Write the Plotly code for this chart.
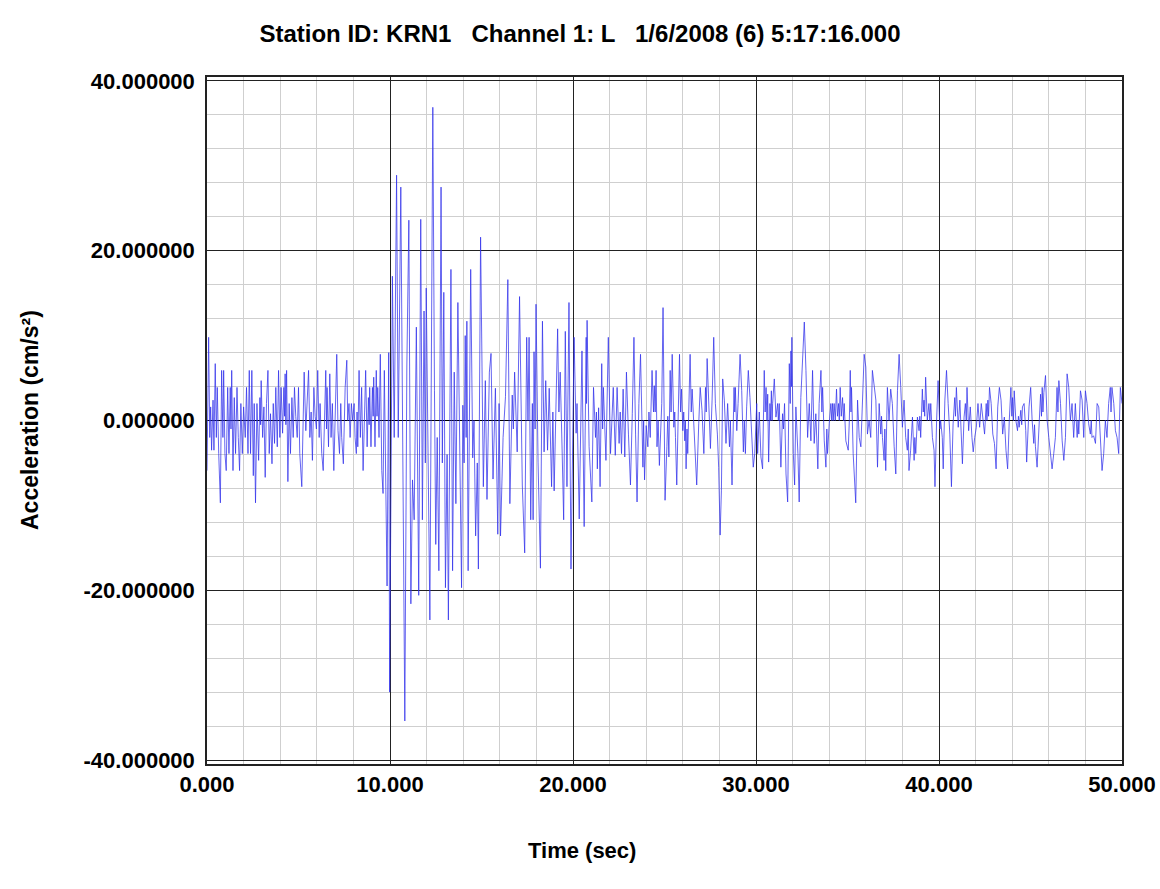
import plotly.graph_objects as go

# ---- data (time in s, acceleration in cm/s^2) ----
t_00_05 = [0.00, 0.09, 0.15, 0.20, 0.25, 0.33, 0.38, 0.45, 0.51, 0.56, 0.64, 0.73, 0.80, 0.87, 0.91, 0.98,
           1.05, 1.13, 1.20, 1.27, 1.31, 1.35, 1.42, 1.49, 1.56, 1.64, 1.71, 1.78, 1.85, 1.93,
           2.00, 2.09, 2.16, 2.24, 2.31, 2.38, 2.45, 2.53, 2.58, 2.65, 2.73, 2.82, 2.89, 2.93, 2.96,
           3.04, 3.11, 3.18, 3.25, 3.33, 3.40, 3.47, 3.55, 3.62, 3.69, 3.76, 3.84, 3.91, 3.98,
           4.05, 4.13, 4.20, 4.24, 4.27, 4.31, 4.35, 4.42, 4.49, 4.56, 4.64, 4.71, 4.78, 4.85, 4.93]
a_00_05 = [-5.9, 9.8, -2.0, 1.6, -3.5, 2.4, -3.5, 6.7, -2.0, 3.9, -3.9, -9.7, 5.9, -2.0, 5.9, -3.9,
           -5.9, 3.9, -3.9, 3.9, -1.0, 5.9, -5.9, 2.7, -3.9, 3.9, -2.0, -5.9, 2.0, -3.9,
           1.6, -2.0, 3.9, -3.9, 5.9, -3.9, 5.9, -6.5, 2.0, -9.7, 2.0, -4.7, 2.7, -0.5, 4.7,
           -2.0, 1.6, -6.7, 2.0, 5.9, -3.9, 0.8, -5.1, 2.0, -2.7, 3.9, -3.1, 5.9, -2.0,
           3.9, -1.5, 3.9, 0.5, 5.5, -0.5, 5.9, -7.2, 2.0, -3.9, 2.7, -2.0, 3.9, 0.5, -2.0]

t_05_10 = [5.00, 5.07, 5.18, 5.25, 5.31, 5.40, 5.47, 5.55, 5.62, 5.69, 5.76, 5.84, 5.91, 5.98,
           6.05, 6.13, 6.18, 6.27, 6.35, 6.42, 6.49, 6.53, 6.56, 6.64, 6.71, 6.78, 6.85, 6.93,
           7.00, 7.09, 7.16, 7.24, 7.31, 7.36, 7.45, 7.55, 7.64, 7.69, 7.76, 7.82, 7.89, 7.96,
           8.04, 8.09, 8.16, 8.20, 8.24, 8.31, 8.38, 8.45, 8.53, 8.60, 8.67, 8.75, 8.82, 8.86, 8.89, 8.96,
           9.04, 9.08, 9.11, 9.18, 9.25, 9.29, 9.33, 9.40, 9.47, 9.55, 9.62, 9.69, 9.76, 9.84, 9.93, 9.98]
a_05_10 = [3.9, -3.9, -7.8, 2.0, 5.7, -1.2, 2.0, 5.9, -2.0, 1.0, -4.7, 3.9, 0.5, -1.0,
           5.9, -2.0, 2.0, -3.9, -5.9, 2.0, 5.9, -1.0, 3.9, -3.1, 5.5, -2.0, 2.0, -5.9,
           1.6, 7.8, -1.2, -3.9, 2.0, -2.0, -5.1, 3.9, 7.1, 0.0, 2.0, -2.0, 2.0, 0.0,
           2.0, -2.0, -3.9, 1.0, -3.1, 5.9, -2.0, 3.9, -5.9, 2.0, 5.9, -3.1, 2.7, -0.5, 3.9, -3.1,
           3.9, 0.5, 5.1, -3.1, 5.9, 0.5, 3.9, -2.0, 7.8, -5.9, -8.6, 5.9, -10.0, -19.5, 8.0, -32.0]

t_10_15 = [10.13, 10.23, 10.36, 10.45, 10.59, 10.81, 10.92, 11.03, 11.14, 11.23, 11.32, 11.44, 11.57,
           11.68, 11.77, 11.86, 11.93, 11.98, 12.18, 12.34, 12.43, 12.50, 12.58, 12.67, 12.79, 12.86,
           12.94, 13.03, 13.12, 13.19, 13.33, 13.42, 13.51, 13.60, 13.71, 13.91, 13.98, 14.05, 14.11,
           14.16, 14.20, 14.27, 14.41, 14.52, 14.59, 14.68, 14.77, 14.83, 14.95]
a_10_15 = [17.0, -2.0, 28.9, -2.0, 27.5, -35.4, 6.3, 23.6, -21.6, -7.0, -11.7, 11.0, -20.6,
           23.7, -11.7, 12.9, -5.0, 15.6, -23.5, 36.9, 3.5, -14.6, -2.0, -17.7, 27.5, -5.0,
           15.1, -19.7, -4.0, -23.5, 17.8, -17.7, 5.7, -9.8, 13.9, -19.7, 1.8, -5.0, 10.0,
           -2.0, 11.7, -17.7, 17.8, -4.4, 0.0, -13.6, -5.0, -17.5, 21.6]

t_15_20 = [15.10, 15.21, 15.30, 15.43, 15.52, 15.63, 15.76, 15.89, 15.96, 16.04, 16.18, 16.31, 16.44,
           16.55, 16.68, 16.74, 16.81, 16.95, 17.08, 17.23, 17.36, 17.47, 17.54, 17.60, 17.69, 17.78,
           17.82, 17.87, 17.93, 17.98, 18.09, 18.22, 18.33, 18.42, 18.51, 18.61, 18.70, 18.83, 18.90,
           18.97, 19.16, 19.23, 19.30, 19.40, 19.49, 19.58, 19.67, 19.78, 19.89]
a_15_20 = [-7.8, 4.7, -9.3, 5.7, 7.9, -6.9, 3.8, -13.4, 2.0, -13.6, -2.0, 2.8, 16.6,
           -9.8, 3.0, -1.0, 5.7, -3.7, 14.6, -7.6, -15.6, 9.8, 0.0, 9.8, -11.7, 2.0,
           -11.7, 8.1, -1.0, 13.7, -4.9, -17.4, 11.7, -3.7, 4.7, -3.5, 3.8, -7.8, 1.0,
           -8.3, 10.8, 1.0, 5.7, -3.0, -11.7, 10.5, -7.8, 13.9, -17.5]

t_20_25 = [20.06, 20.17, 20.22, 20.34, 20.49, 20.61, 20.72, 20.74, 20.77, 20.88, 21.03, 21.12, 21.23,
           21.28, 21.33, 21.40, 21.48, 21.57, 21.62, 21.66, 21.80, 21.93, 22.05, 22.20, 22.31, 22.41,
           22.52, 22.58, 22.65, 22.74, 22.83, 22.92, 23.03, 23.14, 23.24, 23.33, 23.42, 23.50, 23.60,
           23.69, 23.82, 23.86, 23.91, 24.00, 24.09, 24.15, 24.22, 24.32, 24.40, 24.44, 24.49, 24.54,
           24.59, 24.65, 24.72, 24.85, 24.92]
a_20_25 = [9.8, -1.5, 2.0, -11.6, 8.2, -12.5, 9.8, 2.0, 11.8, -3.1, -9.6, 3.9, -2.0,
           1.0, -5.7, 1.5, -7.8, 6.7, -1.0, 3.9, -4.7, 9.8, -3.9, 3.9, -4.1, 3.9,
           -2.7, 1.0, -3.9, 3.7, -4.3, 5.7, -1.6, -7.6, 0.8, 9.8, -1.6, -9.6, 2.0,
           7.8, -5.5, 0.0, -7.0, -0.6, -3.1, 1.0, -2.0, 5.9, 1.0, 4.1, 1.0, 5.9,
           -3.1, 0.0, -5.3, 2.0, 13.3]

t_25_30 = [25.03, 25.13, 25.18, 25.24, 25.31, 25.36, 25.42, 25.51, 25.56, 25.60, 25.67, 25.82, 25.88,
           25.93, 26.00, 26.05, 26.11, 26.14, 26.18, 26.23, 26.27, 26.40, 26.46, 26.51, 26.62, 26.76,
           26.87, 26.95, 27.05, 27.15, 27.24, 27.28, 27.33, 27.42, 27.51, 27.60, 27.69, 27.78, 27.89,
           27.96, 28.04, 28.11, 28.18, 28.27, 28.36, 28.45, 28.55, 28.60, 28.64, 28.69, 28.80, 28.84,
           28.87, 28.95, 29.02, 29.13, 29.22, 29.31, 29.36, 29.42, 29.49, 29.58, 29.67, 29.75, 29.85, 29.93]
a_25_30 = [-9.4, -3.1, 0.5, -4.3, 5.9, 1.0, 7.8, -0.8, 1.0, -2.0, -7.6, 7.8, 1.0,
           3.7, -1.2, 1.0, -2.4, 0.0, -5.7, -1.0, -3.9, 7.8, 1.0, 3.7, -1.2, -7.6,
           -0.4, 3.9, 1.2, -3.9, 3.9, 1.0, 7.3, 2.5, -3.3, 2.4, 9.8, 2.0, -1.6,
           -5.5, -13.5, -8.2, 4.9, 2.4, -2.7, 2.0, -3.1, 0.0, -3.5, -7.6, 3.9, 1.0,
           3.9, -1.2, 2.0, 7.8, 3.5, -3.7, 0.0, -3.9, 1.6, 5.9, 2.7, -0.8, -5.5, -3.9]

t_30_35 = [30.04, 30.09, 30.18, 30.27, 30.36, 30.45, 30.50, 30.55, 30.60, 30.64, 30.69, 30.76, 30.80,
           30.84, 30.88, 30.91, 31.00, 31.09, 31.18, 31.22, 31.27, 31.36, 31.45, 31.50, 31.56, 31.64,
           31.73, 31.82, 31.87, 31.91, 31.94, 31.96, 32.04, 32.11, 32.18, 32.29, 32.36, 32.45, 32.55,
           32.64, 32.73, 32.82, 32.91, 33.00, 33.09, 33.18, 33.27, 33.38, 33.45, 33.55, 33.60, 33.64,
           33.73, 33.82, 33.87, 33.91, 34.00, 34.09, 34.14, 34.18, 34.22, 34.27, 34.33, 34.40, 34.45,
           34.51, 34.55, 34.60, 34.66, 34.73, 34.78, 34.82, 34.91]
a_30_35 = [2.0, -3.9, 1.0, -4.3, -5.7, 5.9, 1.0, 3.9, 0.0, 3.1, -4.9, 2.0, 0.0,
           3.5, 0.0, 2.0, 4.9, 0.4, 2.0, 0.0, 2.0, -5.5, 0.8, -1.0, 2.0, -6.3,
           -9.6, 6.7, 2.0, 8.2, 4.0, 9.8, -3.9, -7.6, 1.6, -3.9, -9.6, 2.7, 7.8,
           11.6, 5.9, -2.0, 2.0, -2.4, 5.9, -2.7, 0.8, -5.7, 2.0, 5.9, 1.0, 3.9,
           -2.4, -5.5, -1.0, -3.9, -0.4, 2.0, 0.0, 2.0, 0.0, 2.0, 0.0, 3.7, 0.5,
           2.0, 0.0, 3.9, 0.5, 2.7, 0.0, 2.0, -2.4]

t_35_40 = [35.04, 35.10, 35.15, 35.19, 35.22, 35.31, 35.36, 35.45, 35.55, 35.64, 35.73, 35.82, 35.91,
           36.00, 36.09, 36.18, 36.27, 36.36, 36.45, 36.55, 36.64, 36.73, 36.82, 36.86, 36.91, 37.00,
           37.04, 37.09, 37.18, 37.27, 37.36, 37.45, 37.55, 37.64, 37.73, 37.82, 37.91, 38.00, 38.09,
           38.18, 38.27, 38.32, 38.36, 38.45, 38.55, 38.64, 38.68, 38.73, 38.82, 38.91, 38.95, 39.00,
           39.09, 39.14, 39.18, 39.22, 39.27, 39.36, 39.45, 39.50, 39.55, 39.64, 39.73, 39.78, 39.87, 39.95]
a_35_40 = [-3.5, 0.0, 5.9, 1.0, 3.9, -3.9, -5.9, -9.7, 2.4, -2.0, -3.1, 3.9, 7.8,
           6.3, -1.6, 0.0, -2.0, 5.9, 3.9, 2.4, -5.5, 2.0, -1.6, 0.5, -2.0, -4.7,
           -1.0, -5.9, 3.9, 0.0, 3.7, 2.0, -3.1, -6.3, 3.5, 7.8, 3.9, -0.8, 2.4,
           -2.0, -3.5, -1.0, -5.9, -3.5, 0.4, -4.7, -2.0, -3.9, 0.4, -1.2, 0.5, -2.0,
           3.7, 1.0, 2.4, 0.5, 5.1, 0.0, 2.0, 0.0, 2.0, -2.0, -3.5, -7.8, 0.0, 4.7]

t_40_45 = [40.05, 40.09, 40.18, 40.23, 40.32, 40.41, 40.50, 40.59, 40.68, 40.77, 40.86, 40.90, 40.95,
           41.05, 41.14, 41.23, 41.28, 41.37, 41.44, 41.49, 41.53, 41.62, 41.71, 41.80, 41.87, 41.95,
           42.04, 42.13, 42.22, 42.31, 42.40, 42.49, 42.58, 42.62, 42.67, 42.71, 42.76, 42.85, 42.94,
           43.03, 43.12, 43.21, 43.30, 43.39, 43.48, 43.57, 43.66, 43.75, 43.84, 43.93, 43.98, 44.02,
           44.07, 44.11, 44.20, 44.29, 44.34, 44.38, 44.47, 44.52, 44.56, 44.65, 44.74, 44.79, 44.92]
a_40_45 = [-1.0, 0.0, -2.0, -5.7, 2.4, 5.9, 2.0, -1.6, -7.8, -0.4, 2.7, 0.5, 3.9,
           -0.8, 2.4, -2.0, -5.1, 0.4, 2.0, 0.0, 3.9, -1.2, 1.6, -2.0, -3.7, -2.0,
           -0.8, 2.0, -0.8, 2.0, 0.0, -1.6, 2.0, 0.0, 2.4, 0.5, 3.9, 2.0, -1.6,
           -2.7, -5.7, 1.6, 3.9, 2.4, -1.6, 0.4, -3.5, -5.7, 0.0, 3.9, 0.5, 2.7,
           0.0, 3.5, 0.0, -1.2, 0.5, -0.8, 1.2, -0.5, 1.6, 2.0, -1.2, -4.9, 1.6]

t_45_50 = [45.01, 45.09, 45.18, 45.22, 45.27, 45.36, 45.45, 45.55, 45.60, 45.64, 45.68, 45.73, 45.82,
           45.91, 46.00, 46.09, 46.18, 46.27, 46.36, 46.45, 46.50, 46.55, 46.64, 46.73, 46.82, 46.91,
           47.00, 47.09, 47.18, 47.27, 47.36, 47.45, 47.55, 47.60, 47.64, 47.73, 47.82, 47.91, 48.00,
           48.09, 48.18, 48.27, 48.32, 48.36, 48.45, 48.55, 48.64, 48.73, 48.82, 48.91, 49.00, 49.09,
           49.18, 49.27, 49.36, 49.40, 49.45, 49.55, 49.64, 49.73, 49.82, 49.91, 50.00]
a_45_50 = [3.9, 0.0, -2.7, -0.5, -3.1, -5.5, -2.0, 3.1, 0.5, 3.9, 1.0, 3.3, 5.3,
           0.0, -2.0, -3.9, -5.7, -3.9, -2.0, 3.9, 1.0, 4.7, 2.0, -2.4, -4.7, -2.0,
           5.5, 3.9, 0.0, 2.0, -2.0, 2.0, -2.0, 0.0, -1.6, 3.5, 2.4, -2.0, 3.5,
           2.0, -0.4, -1.6, 0.0, -2.0, -1.8, -2.7, 2.0, 1.6, -2.4, -5.9, -3.9, 0.0,
           -2.0, 2.0, 3.9, 1.0, 3.9, 2.0, -1.2, -2.0, -3.9, 3.9, 2.0]

x_tick_vals = [0, 10, 20, 30, 40, 50]
x_tick_text = ["0.000", "10.000", "20.000", "30.000", "40.000", "50.000"]
y_tick_vals = [-40, -20, 0, 20, 40]
y_tick_text = ["-40.000000", "-20.000000", "0.000000", "20.000000", "40.000000"]

title_text = "Station ID: KRN1   Channel 1: L   1/6/2008 (6) 5:17:16.000"
x_title = "Time (sec)"
y_title = "Acceleration (cm/s²)"

segments = [(t_00_05, a_00_05), (t_05_10, a_05_10), (t_10_15, a_10_15), (t_15_20, a_15_20),
            (t_20_25, a_20_25), (t_25_30, a_25_30), (t_30_35, a_30_35), (t_35_40, a_35_40),
            (t_40_45, a_40_45), (t_45_50, a_45_50)]
times, accel = [], []
for ts, vs in segments:
    for t, v in zip(ts, vs, strict=True):
        times.append(t)
        accel.append(v)

FONT = "Liberation Sans, Arial, Helvetica, sans-serif"

fig = go.Figure()
fig.add_trace(go.Scatter(x=times, y=accel, mode="lines",
                         line=dict(color="rgb(50,50,235)", width=0.75),
                         showlegend=False, hoverinfo="skip"))

W, H = 1160, 889
L, R, T, B = 207, 38, 77, 125

fig.update_layout(
    width=W, height=H,
    margin=dict(l=L, r=R, t=T, b=B, autoexpand=False),
    paper_bgcolor="white", plot_bgcolor="white",
    font=dict(family=FONT, size=22, color="black", weight="bold"),
    title=dict(text=title_text, x=0.5, xref="container", xanchor="center",
               y=1 - 34 / H, yref="container", yanchor="middle",
               font=dict(family=FONT, size=24, color="black", weight="bold")),
    xaxis=dict(range=[0, 50], tickmode="array", tickvals=x_tick_vals, ticktext=x_tick_text,
               automargin=False,
               showgrid=True, gridcolor="#222222", gridwidth=1,
               minor=dict(dtick=2, tick0=0, showgrid=True, gridcolor="#cfcfcf", gridwidth=1, ticks=""),
               zeroline=False, showline=True, mirror=True, linecolor="#222222", linewidth=1.5,
               ticks="", ticklabelstandoff=0,
               tickfont=dict(family=FONT, size=22, color="black", weight="bold")),
    yaxis=dict(range=[-40.47, 40.47], tickmode="array", tickvals=y_tick_vals, ticktext=y_tick_text,
               automargin=False,
               showgrid=True, gridcolor="#222222", gridwidth=1,
               minor=dict(dtick=4, tick0=0, showgrid=True, gridcolor="#cfcfcf", gridwidth=1, ticks=""),
               zeroline=True, zerolinecolor="black", zerolinewidth=1.2,
               showline=True, mirror=True, linecolor="#222222", linewidth=1.5,
               ticks="", ticklabelstandoff=6,
               tickfont=dict(family=FONT, size=22, color="black", weight="bold")),
    annotations=[
        dict(text=x_title, xref="paper", yref="paper",
             x=(582 - L) / (W - L - R), y=-(850 - (H - B)) / (H - T - B),
             xanchor="center", yanchor="middle", showarrow=False,
             font=dict(family=FONT, size=22, color="black", weight="bold")),
        dict(text=y_title, xref="paper", yref="paper",
             x=(30 - L) / (W - L - R), y=((H - B) - 420) / (H - T - B),
             xanchor="center", yanchor="middle", textangle=-90, showarrow=False,
             font=dict(family=FONT, size=23, color="black", weight="bold")),
    ],
)

fig.write_html("out.html")
